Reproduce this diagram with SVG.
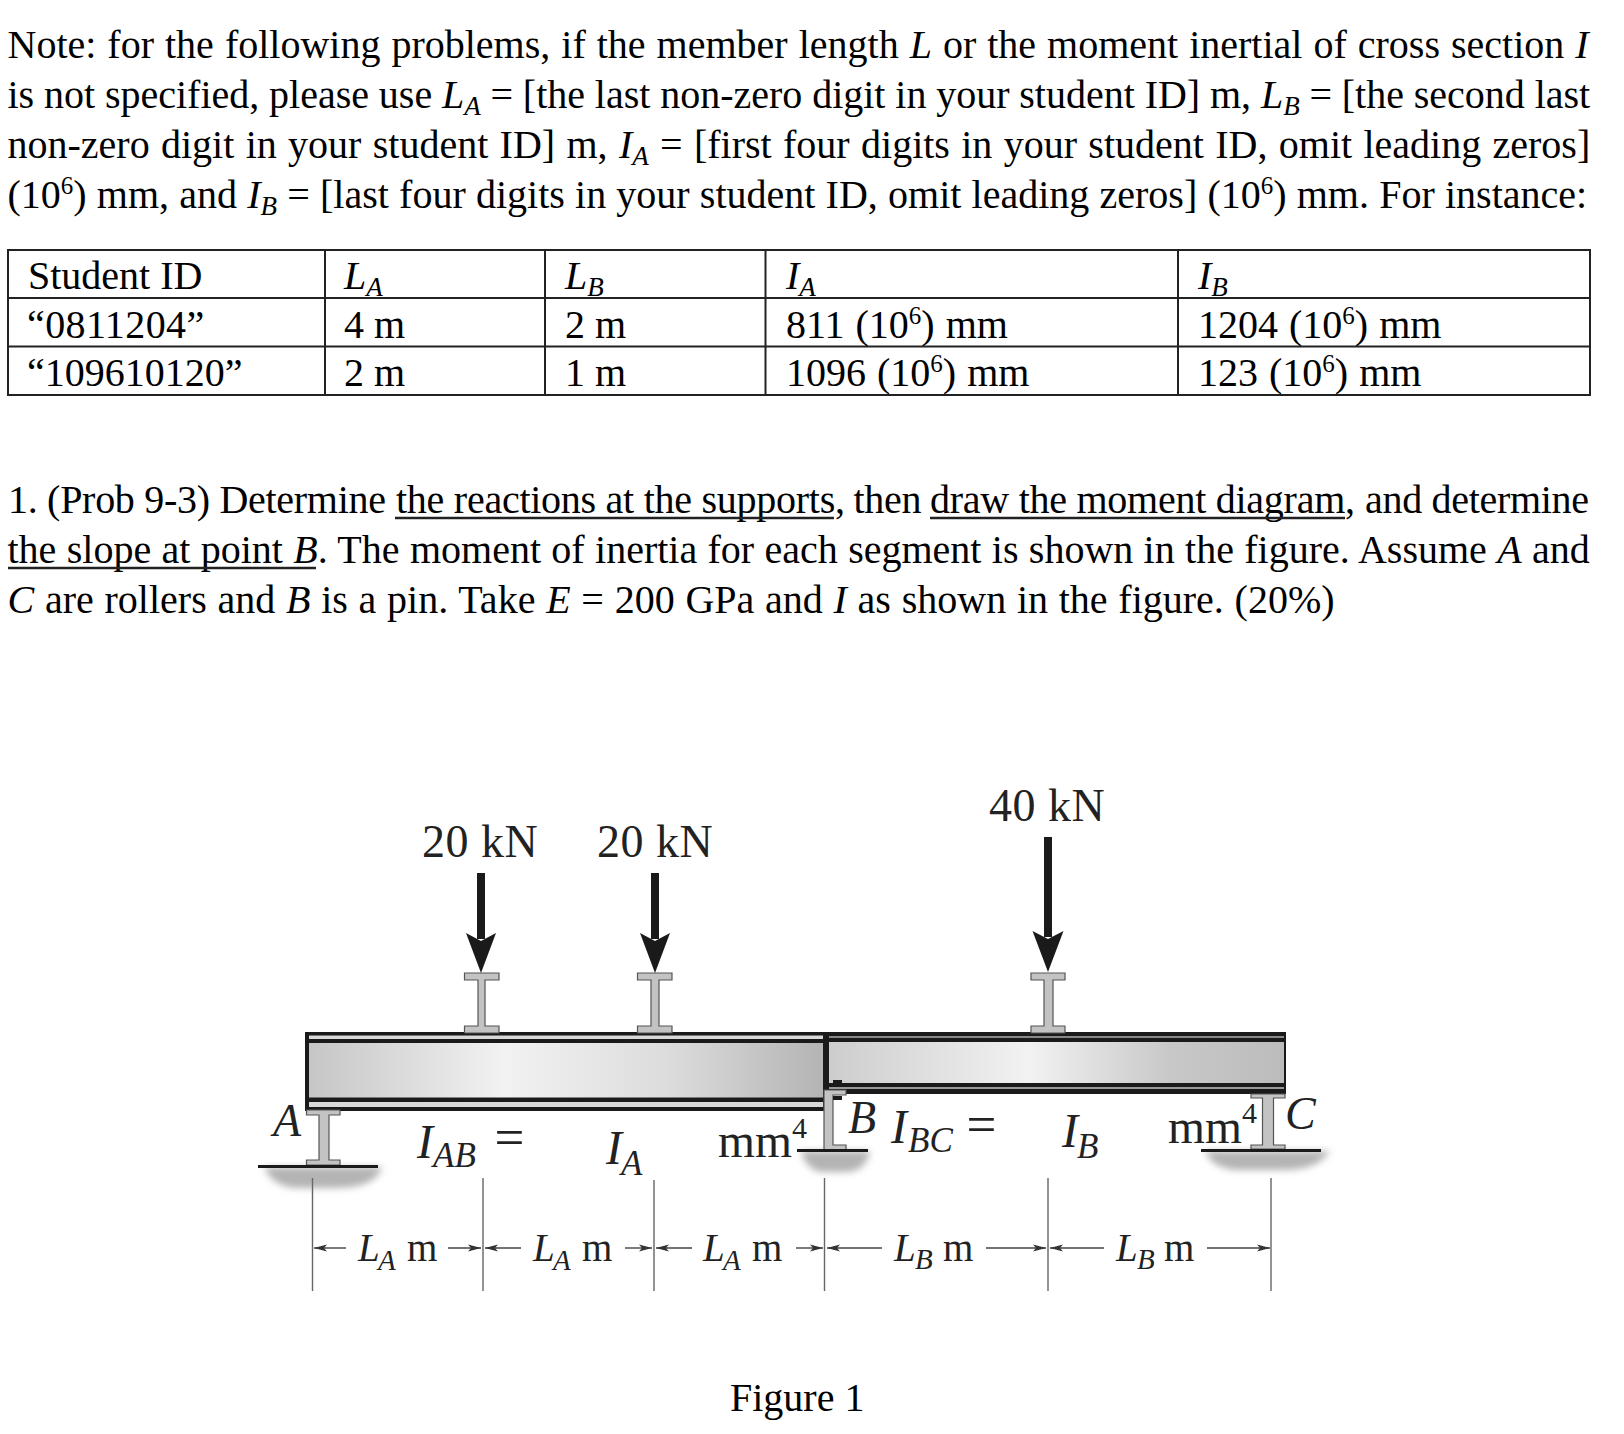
<svg xmlns="http://www.w3.org/2000/svg" width="1624" height="1434" viewBox="0 0 1624 1434">
<style>
text{font-family:"Liberation Serif","Times New Roman",serif;fill:#000}
.b{font-size:40px}
.i{font-style:italic}
.s{font-size:27px;font-style:italic}
.u{font-size:25px}
.m{word-spacing:1px}
.f{fill:#222}
.fl{font-size:46px;letter-spacing:.5px}
.fm{font-size:47.500px}
.fe{font-size:53px}
.fi{font-size:48px;font-style:italic}
.fc{font-size:46px;font-style:italic}
.fs{font-size:35px;font-style:italic}
.fn{font-size:30px}
.d{font-size:39px}
.ds{font-size:29px;font-style:italic}
.tl{stroke:#222;stroke-width:2;fill:none}
.un{stroke:#222;stroke-width:2.4}
.tick{stroke:#666;stroke-width:1.4;fill:none}
.dim{stroke:#444;stroke-width:1.4;fill:none}
.steel{fill:#c3c3c3;stroke:#555;stroke-width:1.2}
.bk{fill:#1a1a1a}
.lt{fill:#d8d8d8}
.g{stroke:#1a1a1a;stroke-width:3;fill:none}
.sh{fill:#b4b4b4;filter:url(#blur)}
</style>
<defs>
<linearGradient id="w1" x1="0" x2="1" y1="0" y2="0"><stop offset="0" stop-color="#c6c6c6"/><stop offset=".38" stop-color="#f2f2f2"/><stop offset=".7" stop-color="#dcdcdc"/><stop offset="1" stop-color="#b4b4b4"/></linearGradient>
<linearGradient id="w2" x1="0" x2="1" y1="0" y2="0"><stop offset="0" stop-color="#cdcdcd"/><stop offset=".44" stop-color="#f2f2f2"/><stop offset=".75" stop-color="#c8c8c8"/><stop offset="1" stop-color="#bcbcbc"/></linearGradient>
<filter id="blur" x="-20%" y="-60%" width="140%" height="220%"><feGaussianBlur stdDeviation="3.500"/></filter>
<marker id="ah" markerWidth="14" markerHeight="8" refX="13" refY="4" orient="auto-start-reverse" markerUnits="userSpaceOnUse"><path d="M0 0.500L13 4L0 7.500L3 4Z" fill="#333"/></marker>
</defs>
<g id="note">
<text class="b" x="7.500" y="58" word-spacing="1">Note: for the following problems, if the member length <tspan class="i">L</tspan> or the moment inertial of cross section <tspan class="i">I</tspan></text>
<text class="b" x="7.500" y="108" word-spacing="-0.2">is not specified, please use <tspan class="i">L</tspan><tspan class="s" dy="7">A</tspan><tspan dy="-7"> = [the last non-zero digit in your student ID] m, </tspan><tspan class="i">L</tspan><tspan class="s" dy="7">B</tspan><tspan dy="-7"> = [the second last</tspan></text>
<text class="b" x="7.500" y="158" word-spacing="1.33">non-zero digit in your student ID] m, <tspan class="i">I</tspan><tspan class="s" dy="7">A</tspan><tspan dy="-7"> = [first four digits in your student ID, omit leading zeros]</tspan></text>
<text class="b" x="7.500" y="208" word-spacing="0.2">(10<tspan class="u" dy="-14">6</tspan><tspan dy="14">) mm, and </tspan><tspan class="i">I</tspan><tspan class="s" dy="7">B</tspan><tspan dy="-7"> = [last four digits in your student ID, omit leading zeros] (10</tspan><tspan class="u" dy="-14">6</tspan><tspan dy="14">) mm. For instance:</tspan></text>
</g>
<g id="table">
<rect class="tl" x="8" y="250" width="1582" height="145"/>
<path class="tl" d="M8 298H1590M8 346.500H1590M325 250V395M545 250V395M765.500 250V395M1178 250V395"/>
<text class="b" x="28" y="289">Student ID</text>
<text class="b" x="344" y="289"><tspan class="i">L</tspan><tspan class="s" dy="7">A</tspan></text>
<text class="b" x="565" y="289"><tspan class="i">L</tspan><tspan class="s" dy="7">B</tspan></text>
<text class="b" x="786" y="289"><tspan class="i">I</tspan><tspan class="s" dy="7">A</tspan></text>
<text class="b" x="1198" y="289"><tspan class="i">I</tspan><tspan class="s" dy="7">B</tspan></text>
<text class="b" x="27" y="338" letter-spacing="0.4">“0811204”</text>
<text class="b" x="344" y="338">4 m</text>
<text class="b" x="565" y="338">2 m</text>
<text class="b m" x="786" y="338">811 (10<tspan class="u" dy="-14">6</tspan><tspan dy="14">) mm</tspan></text>
<text class="b m" x="1198" y="338">1204 (10<tspan class="u" dy="-14">6</tspan><tspan dy="14">) mm</tspan></text>
<text class="b" x="27" y="386">“109610120”</text>
<text class="b" x="344" y="386">2 m</text>
<text class="b" x="565" y="386">1 m</text>
<text class="b m" x="786" y="386">1096 (10<tspan class="u" dy="-14">6</tspan><tspan dy="14">) mm</tspan></text>
<text class="b m" x="1198" y="386">123 (10<tspan class="u" dy="-14">6</tspan><tspan dy="14">) mm</tspan></text>
</g>
<g id="problem">
<text class="b" x="8" y="513" textLength="378">1. (Prob 9-3) Determine</text>
<text class="b" x="396" y="513" textLength="449">the reactions at the supports,</text>
<text class="b" x="853.500" y="513" textLength="68">then</text>
<text class="b" x="930" y="513" textLength="425">draw the moment diagram,</text>
<text class="b" x="1365" y="513" textLength="224">and determine</text>
<text class="b" x="7.500" y="563" word-spacing="0.35">the slope at point <tspan class="i">B</tspan>. The moment of inertia for each segment is shown in the figure. Assume <tspan class="i">A</tspan> and</text>
<text class="b" x="7.500" y="613" word-spacing="0.75"><tspan class="i">C</tspan> are rollers and <tspan class="i">B</tspan> is a pin. Take <tspan class="i">E</tspan> = 200 GPa and <tspan class="i">I</tspan> as shown in the figure. (20%)</text>
<path class="un" d="M395 518H834M930 518H1345M8 568H316"/>
</g>
<g id="shadows">
<path class="sh" d="M264 1167H382Q376 1188 335 1188H295Q272 1186 264 1167Z"/>
<path class="sh" d="M801 1151H870Q866 1172 845 1172H822Q806 1170 801 1151Z"/>
<path class="sh" d="M1205 1151H1330Q1318 1170 1285 1170H1235Q1212 1168 1205 1151Z"/>
</g>
<g id="beam-AB">
<rect class="bk" x="305" y="1032" width="522" height="79"/>
<rect class="lt" x="309" y="1035.500" width="514" height="3.500"/>
<rect fill="url(#w1)" x="309" y="1043" width="514" height="54.500"/>
<rect class="lt" x="309" y="1102" width="514" height="5"/>
</g>
<g id="beam-BC">
<rect class="bk" x="825" y="1032" width="461" height="62"/>
<rect fill="#888" x="829" y="1036" width="455" height="2"/>
<rect fill="url(#w2)" x="829" y="1042" width="455" height="41"/>
<rect fill="#999" x="829" y="1087" width="455" height="2"/>
<rect class="bk" x="833" y="1080" width="9" height="3"/>
</g>
<g id="stiffeners">
<path class="steel" d="M464.500 973H499V980H485V1026H499V1033H464.500V1026H478V980H464.500Z"/>
<path class="steel" d="M637.500 973H672V980H659V1026H672V1033H637.500V1026H651V980H637.500Z"/>
<path class="steel" d="M1031 973H1065V980H1053V1026H1065V1033H1031V1026H1044V980H1031Z"/>
</g>
<g id="support-A">
<path class="steel" d="M306.500 1110H340V1115H329V1160H340V1165H306.500V1160H319V1115H306.500Z"/>
<path class="g" d="M258 1166.500H378"/>
</g>
<g id="support-B">
<path class="steel" d="M824 1090H846V1095H833V1145H846V1150H824Z"/>
<rect class="bk" x="833" y="1096" width="9" height="4"/>
<path class="g" d="M797 1150.500H868"/>
</g>
<g id="support-C">
<path class="steel" d="M1251 1094H1285V1098H1273.500V1145H1285V1149H1251V1145H1262.500V1098H1251Z"/>
<path class="g" d="M1201 1150.500H1321"/>
</g>
<g id="loads">
<rect class="bk" x="477" y="873" width="8" height="66"/>
<path class="bk" d="M466 933L481 941L496 933L481 973Z"/>
<rect class="bk" x="651" y="873" width="8" height="66"/>
<path class="bk" d="M640 933L655 941L670 933L655 973Z"/>
<rect class="bk" x="1044" y="837" width="8" height="100"/>
<path class="bk" d="M1032.500 931L1048 939L1063.500 931L1048 972Z"/>
<text class="fl f" x="422" y="857">20 kN</text>
<text class="fl f" x="597" y="857">20 kN</text>
<text class="fl f" x="989" y="820.500">40 kN</text>
</g>
<g id="dimensions">
<path class="tick" d="M312.500 1178V1291M483 1178V1291M654 1180V1291M824.500 1178V1291M1048 1178V1291M1271 1178V1291"/>
<path class="dim" marker-start="url(#ah)" d="M314 1248H346"/>
<path class="dim" marker-end="url(#ah)" d="M448 1248H481"/>
<path class="dim" marker-start="url(#ah)" d="M485 1248H521"/>
<path class="dim" marker-end="url(#ah)" d="M625 1248H652"/>
<path class="dim" marker-start="url(#ah)" d="M656 1248H692"/>
<path class="dim" marker-end="url(#ah)" d="M796 1248H823"/>
<path class="dim" marker-start="url(#ah)" d="M827 1248H882"/>
<path class="dim" marker-end="url(#ah)" d="M986 1248H1046"/>
<path class="dim" marker-start="url(#ah)" d="M1050 1248H1104"/>
<path class="dim" marker-end="url(#ah)" d="M1207 1248H1270"/>
<text class="d f i" x="358" y="1261">L</text><text class="ds f" x="378" y="1270">A</text><text class="d f" x="407" y="1261">m</text>
<text class="d f i" x="533" y="1261">L</text><text class="ds f" x="553" y="1270">A</text><text class="d f" x="582" y="1261">m</text>
<text class="d f i" x="703" y="1261">L</text><text class="ds f" x="723" y="1270">A</text><text class="d f" x="752" y="1261">m</text>
<text class="d f i" x="894" y="1261">L</text><text class="ds f" x="915" y="1269">B</text><text class="d f" x="943" y="1261">m</text>
<text class="d f i" x="1116" y="1261">L</text><text class="ds f" x="1137" y="1269">B</text><text class="d f" x="1164" y="1261">m</text>
</g>
<g id="labels">
<text class="fc f" x="273" y="1136">A</text>
<text class="fc f" x="848" y="1133">B</text>
<text class="fc f" x="1285" y="1129">C</text>
<text class="fi f" x="417" y="1158">I</text><text class="fs f" x="433" y="1167">AB</text><text class="fe f" x="494.500" y="1155">=</text>
<text class="fi f" x="606" y="1164">I</text><text class="fs f" x="621" y="1175">A</text>
<text class="fm f" x="718" y="1157">mm</text><text class="fn f" x="792" y="1138">4</text>
<text class="fi f" x="891" y="1143">I</text><text class="fs f" x="908" y="1152">BC</text><text class="fe f" x="966.500" y="1142">=</text>
<text class="fi f" x="1062" y="1147">I</text><text class="fs f" x="1077" y="1158">B</text>
<text class="fm f" x="1168" y="1143">mm</text><text class="fn f" x="1242" y="1123">4</text>
</g>
<text id="caption" class="b" x="730" y="1411">Figure 1</text>
</svg>
